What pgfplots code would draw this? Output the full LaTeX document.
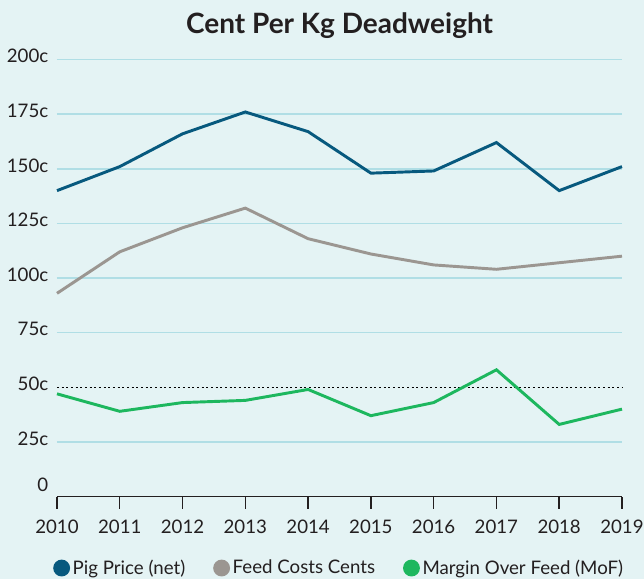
\documentclass[border=0pt]{standalone}
\usepackage{pgfplots}
\pgfplotsset{compat=1.18}
\usepackage{fontspec}
\setmainfont{Lato}
\definecolor{bg}{HTML}{E4F3F4}
\definecolor{gridc}{HTML}{B0DEE5}
\definecolor{pig}{HTML}{07597E}
\definecolor{feed}{HTML}{9B9691}
\definecolor{mof}{HTML}{1DB75E}
\definecolor{txt}{HTML}{231F20}
\begin{document}
\begin{tikzpicture}
\fill[bg] (-42.75pt,-62pt) rectangle (440.25pt,372.4pt);
\useasboundingbox (-42.75pt,-62pt) rectangle (440.25pt,372.4pt);
\node[font=\fontsize{21}{24}\selectfont\bfseries, text=txt] at (211.9pt,353.5pt) {Cent Per Kg Deadweight};
\begin{axis}[
  at={(0,0)}, anchor=south west,
  scale only axis, width=423.75pt, height=327.75pt,
  xmin=2010, xmax=2019, ymin=0, ymax=200,
  axis x line*=bottom,
  axis y line*=left,
  /pgf/number format/assume math mode=true,
  x axis line style={draw=txt, line width=1.1pt, -},
  y axis line style={draw=none},
  xtick={2010,...,2019},
  x tick label style={/pgf/number format/1000 sep={}, font=\fontsize{14}{16}\selectfont, text=txt, yshift=-5pt},
  xtick style={draw=txt, line width=1.1pt},
  major tick length=9pt,
  tick align=outside,
  ytick={0,25,75,100,125,150,175,200},
  yticklabels={\raisebox{12pt}{0},25c,75c,100c,125c,150c,175c,200c},
  extra y ticks={50}, extra y tick labels={50c},
  extra y tick style={grid=none},
  y tick label style={font=\fontsize{14}{16}\selectfont, text=txt, yshift=2.5pt, xshift=6pt},
  ytick style={draw=none},
  ymajorgrids, grid style={draw=gridc, line width=1.1pt},
  clip=false,
  legend style={at={(0.5,-0.1636)}, anchor=center, draw=none, fill=none,
    legend columns=3, font=\fontsize{14}{16}\selectfont, text=txt,
    /tikz/every even column/.append style={column sep=19pt}},
  legend cell align=left,
]
\addplot[black, line width=1pt, dash pattern=on 1.5pt off 2pt, forget plot] coordinates {(2010,50) (2019,50)};
\addplot[pig, line width=2.2pt, legend image code/.code={\fill[pig] (0.1cm,0cm) circle (5.2pt);}] coordinates {
(2010,140) (2011,151) (2012,166) (2013,176) (2014,167) (2015,148) (2016,149) (2017,162) (2018,140) (2019,151)};
\addlegendentry{Pig Price (net)}
\addplot[feed, line width=2.2pt, legend image code/.code={\fill[feed] (0.1cm,0cm) circle (5.2pt);}] coordinates {
(2010,93) (2011,112) (2012,123) (2013,132) (2014,118) (2015,111) (2016,106) (2017,104) (2018,107) (2019,110)};
\addlegendentry{Feed Costs Cents}
\addplot[mof, line width=2.2pt, legend image code/.code={\fill[mof] (0.1cm,0cm) circle (5.2pt);}] coordinates {
(2010,47) (2011,39) (2012,43) (2013,44) (2014,49) (2015,37) (2016,43) (2017,58) (2018,33) (2019,40)};
\addlegendentry{Margin Over Feed (MoF)}
\end{axis}
\end{tikzpicture}
\end{document}
